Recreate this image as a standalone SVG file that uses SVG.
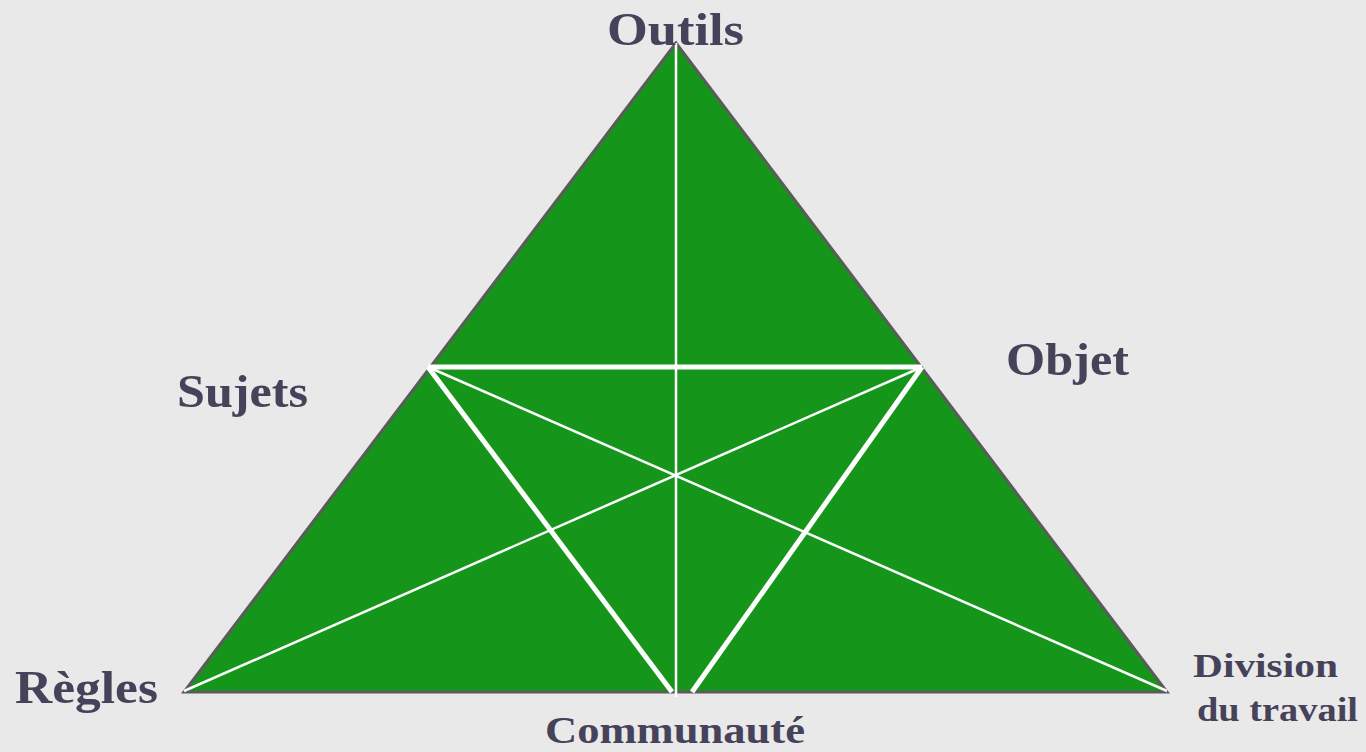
<svg xmlns="http://www.w3.org/2000/svg" width="1366" height="752" viewBox="0 0 1366 752">
  <style>
    .lbl { font-family: "Liberation Serif", "Times New Roman", serif; font-weight: bold; fill: #45425a; }
    .thick { stroke: #ffffff; stroke-width: 5; fill: none; }
    .thin { stroke: #ffffff; stroke-width: 2.5; fill: none; }
  </style>
  <rect width="1366" height="752" fill="#e9e9e9"/>

  <!-- main triangle -->
  <g id="triangle">
    <polygon points="676,43 184,692 1167,692" fill="#15961a" stroke="#5b5b5b" stroke-width="3" stroke-linejoin="miter"/>
  </g>

  <!-- internal connections -->
  <g id="connectors">
    <line class="thin" x1="676" y1="43" x2="676" y2="697"/>
    <line class="thick" x1="428" y1="367" x2="922" y2="367"/>
    <line class="thick" x1="428" y1="367" x2="672" y2="692"/>
    <line class="thick" x1="922" y1="367" x2="692" y2="692"/>
    <line class="thin" x1="184" y1="691" x2="922" y2="367"/>
    <line class="thin" x1="428" y1="367" x2="1167" y2="691"/>
  </g>

  <g id="node-outils">
    <text class="lbl" x="607" y="45" font-size="46" textLength="137" lengthAdjust="spacingAndGlyphs">Outils</text>
  </g>
  <g id="node-sujets">
    <text class="lbl" x="177" y="407" font-size="46" textLength="131" lengthAdjust="spacingAndGlyphs">Sujets</text>
  </g>
  <g id="node-objet">
    <text class="lbl" x="1006" y="375" font-size="46" textLength="123" lengthAdjust="spacingAndGlyphs">Objet</text>
  </g>
  <g id="node-regles">
    <text class="lbl" x="15" y="703" font-size="46" textLength="143" lengthAdjust="spacingAndGlyphs">Règles</text>
  </g>
  <g id="node-communaute">
    <text class="lbl" x="545" y="743" font-size="38" textLength="260" lengthAdjust="spacingAndGlyphs">Communauté</text>
  </g>
  <g id="node-division">
    <text class="lbl" x="1193" y="677" font-size="33" textLength="145" lengthAdjust="spacingAndGlyphs">Division</text>
    <text class="lbl" x="1197" y="721" font-size="33" textLength="161" lengthAdjust="spacingAndGlyphs">du travail</text>
  </g>
</svg>
